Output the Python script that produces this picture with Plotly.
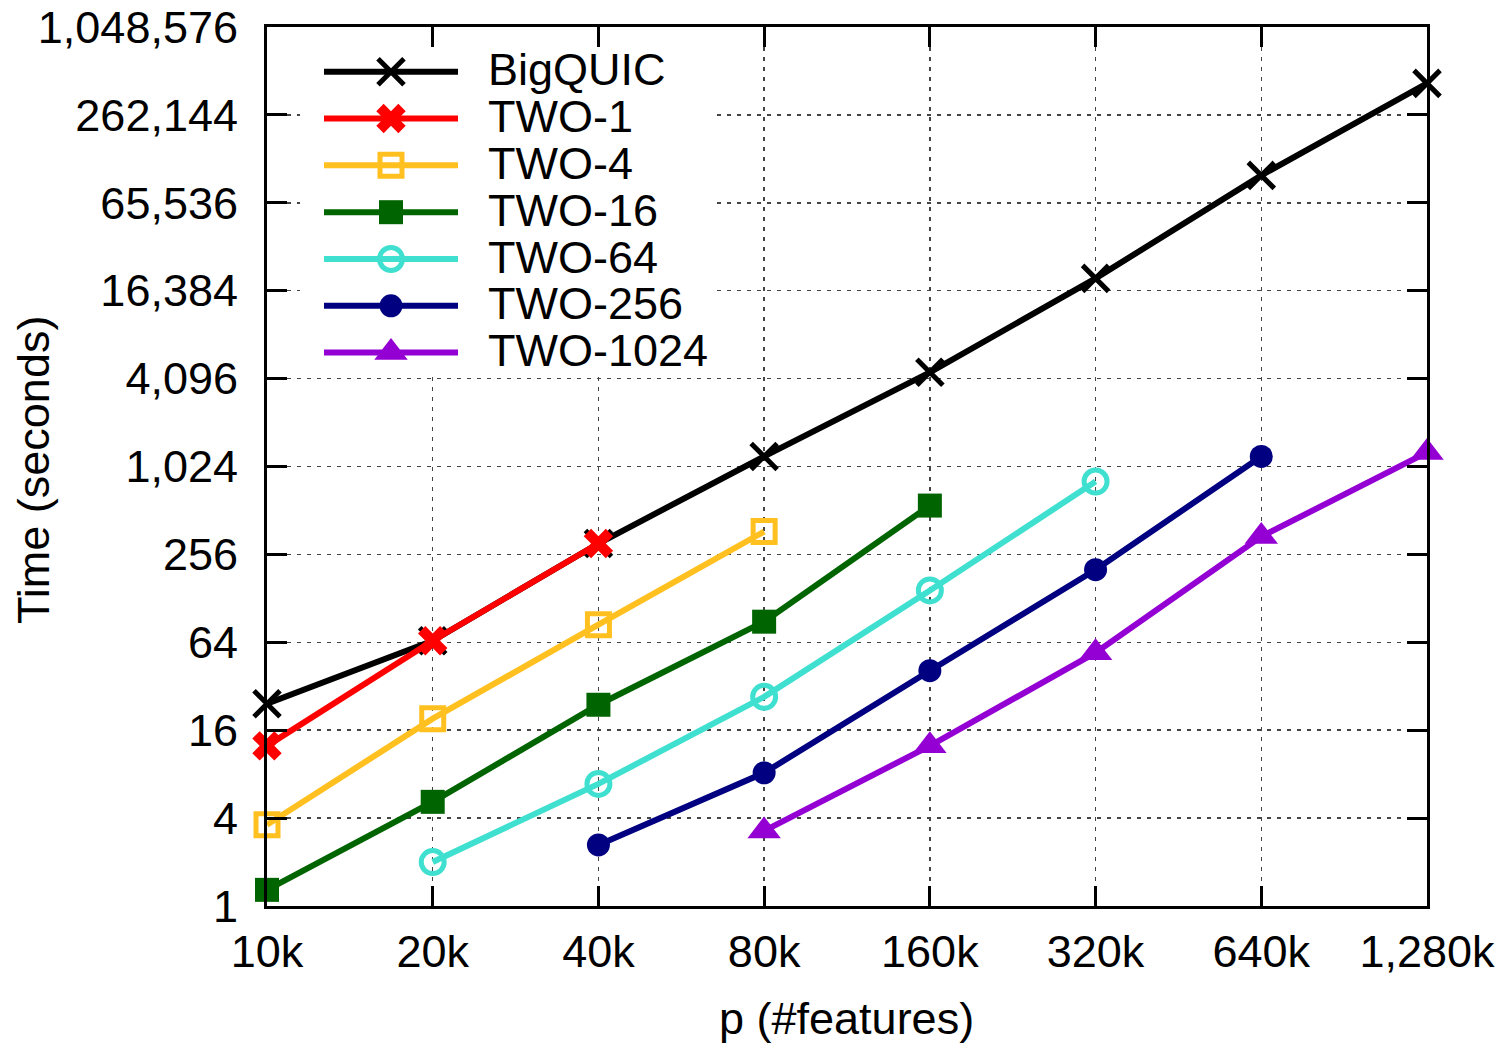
import plotly.graph_objects as go

# ---------------- data ----------------
p_features = [10000, 20000, 40000, 80000, 160000, 320000, 640000, 1280000]
x_tick_labels = ["10k", "20k", "40k", "80k", "160k", "320k", "640k", "1,280k"]
y_tick_vals = [1, 4, 16, 64, 256, 1024, 4096, 16384, 65536, 262144, 1048576]
y_tick_labels = ["1", "4", "16", "64", "256", "1,024", "4,096", "16,384",
                 "65,536", "262,144", "1,048,576"]

bigquic_x = [10000, 20000, 40000, 80000, 160000, 320000, 640000, 1280000]
bigquic_y = [24.3, 65.6, 304, 1200, 4520, 19900, 101000, 431000]

two1_x = [10000, 20000, 40000]
two1_y = [12.5, 65.6, 304]

two4_x = [10000, 20000, 40000, 80000]
two4_y = [3.6, 19.2, 84.5, 367]

two16_x = [10000, 20000, 40000, 80000, 160000]
two16_y = [1.29, 5.17, 23.9, 88.6, 553]

two64_x = [20000, 40000, 80000, 160000, 320000]
two64_y = [2.0, 6.86, 27.1, 145, 808]

two256_x = [40000, 80000, 160000, 320000, 640000]
two256_y = [2.62, 8.17, 40.9, 201, 1200]

two1024_x = [80000, 160000, 320000, 640000, 1280000]
two1024_y = [3.27, 12.5, 54.3, 339, 1277]

series_names = ["BigQUIC", "TWO-1", "TWO-4", "TWO-16", "TWO-64", "TWO-256", "TWO-1024"]

# ---------------- styles ----------------
FONT = "Liberation Sans, Arial, Helvetica, sans-serif"
LW = 6
styles = [
    dict(color="#000000", symbol="x-thin", size=26, lw=5),
    dict(color="#ff0000", symbol="x", size=26, lw=0),
    dict(color="#ffc020", symbol="square-open", size=22, lw=5),
    dict(color="#006400", symbol="square", size=24, lw=0),
    dict(color="#40e0d0", symbol="circle-open", size=23, lw=5),
    dict(color="#000080", symbol="circle", size=23, lw=0),
    dict(color="#9400d3", symbol="triangle-up", size=29, lw=0),
]
series = [
    (bigquic_x, bigquic_y), (two1_x, two1_y), (two4_x, two4_y),
    (two16_x, two16_y), (two64_x, two64_y), (two256_x, two256_y),
    (two1024_x, two1024_y),
]

# page geometry (body margin removed so figure == page)
W, H = 1507, 1048
PL, PR, PT, PB = 267, 1427, 27, 906          # plot area in page pixels
L, R, T, B = PL, W - PR, PT, H - PB
pw, ph = PR - PL, PB - PT


def fx(px):
    return (px - PL) / pw


def fy(py):
    return (PB - py) / ph


fig = go.Figure()

for name, (xs, ys), st in zip(series_names, series, styles):
    fig.add_trace(go.Scatter(
        x=xs, y=ys, name=name, mode="lines+markers",
        line=dict(color=st["color"], width=LW),
        marker=dict(symbol=st["symbol"], size=st["size"], color=st["color"], opacity=1,
                    line=dict(color=st["color"], width=st["lw"])),
        showlegend=False, hoverinfo="skip", cliponaxis=False,
    ))

# ---------------- custom legend (gnuplot style, long samples) ----------------
bx0, bx1, by0, by1 = fx(300), fx(712), fy(376), fy(33)
fig.add_trace(go.Scatter(
    x=[bx0, bx1, bx1, bx0, bx0], y=[by0, by0, by1, by1, by0],
    xaxis="x2", yaxis="y2", mode="lines", fill="toself",
    fillcolor="white", line=dict(width=0, color="white"),
    showlegend=False, hoverinfo="skip",
))

row_y = [71.7, 118.5, 165.3, 212.2, 259.0, 305.8, 352.6]
for name, st, ry in zip(series_names, styles, row_y):
    fig.add_trace(go.Scatter(
        x=[fx(324), fx(391), fx(458)], y=[fy(ry)] * 3,
        xaxis="x2", yaxis="y2", mode="lines+markers",
        line=dict(color=st["color"], width=LW),
        marker=dict(symbol=st["symbol"], size=[0, st["size"], 0], color=st["color"],
                    opacity=1, line=dict(color=st["color"], width=st["lw"])),
        showlegend=False, hoverinfo="skip", cliponaxis=False,
    ))
    fig.add_annotation(x=fx(486), y=fy(ry - 2), xref="x2", yref="y2", text=name,
                       showarrow=False, xanchor="left", yanchor="middle",
                       font=dict(size=45, color="black", family=FONT))

# axis titles
fig.add_annotation(x=fx(33), y=fy(470), xref="paper", yref="paper",
                   text="Time (seconds)", textangle=-90, showarrow=False,
                   xanchor="center", yanchor="middle",
                   font=dict(size=45, color="black", family=FONT))
fig.add_annotation(x=fx(846), y=fy(1018), xref="paper", yref="paper",
                   text="p (#features)", showarrow=False,
                   xanchor="center", yanchor="middle",
                   font=dict(size=45, color="black", family=FONT))

axis_common = dict(
    showline=True, linecolor="black", linewidth=3, mirror="ticks",
    ticks="inside", ticklen=20, tickwidth=3, tickcolor="black",
    showgrid=True, gridcolor="#444444", gridwidth=1.5, griddash="4px,6px",
    zeroline=False, automargin=False, ticklabeloverflow="allow",
    tickfont=dict(size=45, color="black", family=FONT),
)

fig.update_layout(
    width=W, height=H,
    margin=dict(l=L, r=R, t=T, b=B, autoexpand=False),
    paper_bgcolor="white", plot_bgcolor="white",
    font=dict(family=FONT, color="black"),
    xaxis=dict(type="log", range=[4, 6.10721], tickmode="array",
               tickvals=p_features, ticktext=x_tick_labels,
               ticklabelstandoff=4, **axis_common),
    yaxis=dict(type="log", range=[0, 6.0206], tickmode="array",
               tickvals=y_tick_vals, ticktext=y_tick_labels,
               ticklabelstandoff=17, **axis_common),
    xaxis2=dict(overlaying="x", range=[0, 1], visible=False, fixedrange=True),
    yaxis2=dict(overlaying="y", range=[0, 1], visible=False, fixedrange=True),
)

fig.write_html(
    "out.html",
    config={"displayModeBar": False, "staticPlot": True},
    post_script="document.body.style.margin='0px';document.body.style.overflow='hidden';",
)
